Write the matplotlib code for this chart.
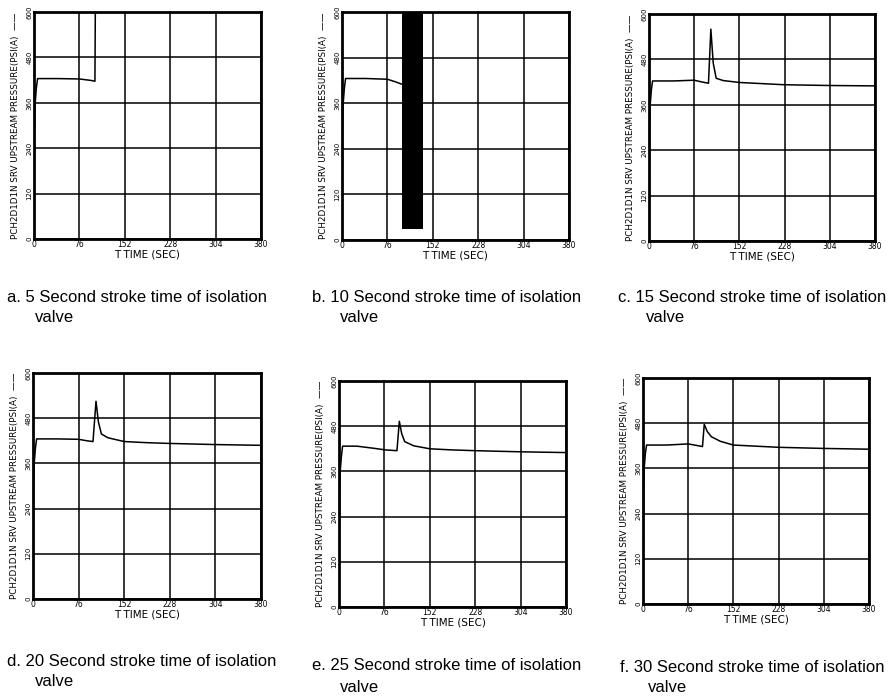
import matplotlib
matplotlib.use('Agg')
import matplotlib.pyplot as plt
from matplotlib import font_manager

W, H = 893, 696

# time axis / pressure axis ticks
x_ticks = [0, 76, 152, 228, 304, 380]
y_ticks = [0, 120, 240, 360, 480, 600]

# a. 5 s stroke (curve leaves the top of the plot)
t_a = [0, 1, 2, 4, 6, 40, 76, 96, 102, 103]
p_a = [0, 300, 360, 400, 424, 424, 423, 419, 417, 700]

# b. 10 s stroke (oscillation band after closure)
t_b = [0, 1, 2, 4, 6, 40, 76, 90, 100]
p_b = [0, 300, 360, 400, 425, 425, 423, 416, 410]
band_t = [100, 135]
band_lo = [30, 30]
band_hi = [600, 600]

# c. 15 s stroke
t_c = [0, 1, 2, 4, 6, 40, 76, 90, 100, 104, 108, 113, 125, 152, 190, 228, 304, 380]
p_c = [0, 300, 360, 400, 423, 423, 425, 420, 417, 560, 470, 430, 424, 419, 416, 413, 411, 410]

# d. 20 s stroke
t_d = [0, 1, 2, 4, 6, 40, 76, 90, 100, 105, 109, 114, 125, 152, 190, 228, 304, 380]
p_d = [0, 300, 360, 400, 425, 425, 424, 420, 418, 525, 470, 438, 428, 418, 415, 413, 410, 408]

# e. 25 s stroke
t_e = [0, 1, 2, 4, 6, 30, 60, 78, 97, 101, 105, 110, 125, 152, 190, 228, 304, 380]
p_e = [0, 300, 360, 400, 427, 427, 421, 417, 415, 493, 460, 439, 428, 420, 417, 415, 412, 410]

# f. 30 s stroke
t_f = [0, 1, 2, 4, 6, 40, 76, 90, 100, 103, 108, 115, 130, 152, 190, 228, 304, 380]
p_f = [0, 300, 360, 400, 422, 422, 425, 421, 418, 477, 458, 444, 432, 422, 419, 416, 413, 411]

captions = ['a. 5 Second stroke time of isolation',
            'b. 10 Second stroke time of isolation',
            'c. 15 Second stroke time of isolation',
            'd. 20 Second stroke time of isolation',
            'e. 25 Second stroke time of isolation',
            'f. 30 Second stroke time of isolation']

ylab = 'PCH2D1D1N SRV UPSTREAM PRESSURE(PSI(A)  \u2014\u2014'
xlab = 'T TIME (SEC)'

# axes boxes in pixels: left, top, right, bottom
boxes = [(34, 12, 261, 239), (342, 12, 569, 240), (649, 14, 875, 241),
         (33, 373, 261, 599), (339, 381, 566, 607), (643, 378, 869, 604)]
# caption anchors in pixels: x, y of first line, y of second line
cap_pos = [(7, 297, 318), (312, 297, 318), (618, 297, 318),
           (7, 661, 682), (312, 665, 687), (620, 667, 688)]

installed = {f.name for f in font_manager.fontManager.ttflist}
if 'Liberation Sans Narrow' in installed:
    cap_font, cap_size = 'Liberation Sans Narrow', 13
else:
    cap_font, cap_size = 'Liberation Sans', 12

fig = plt.figure(figsize=(W / 100, H / 100), dpi=100)

series = [(t_a, p_a), (t_b, p_b), (t_c, p_c), (t_d, p_d), (t_e, p_e), (t_f, p_f)]

for i, (box, (t, p)) in enumerate(zip(boxes, series)):
    l, tp, r, b = box
    ax = fig.add_axes([l / W, 1 - b / H, (r - l) / W, (b - tp) / H])
    ax.plot(t, p, color='black', lw=1.1)
    if i == 1:
        ax.fill_between(band_t, band_lo, band_hi, color='black', lw=0)
    ax.set_xlim(0, 380)
    ax.set_ylim(0, 600)
    ax.set_xticks(x_ticks)
    ax.set_yticks(y_ticks)
    ax.set_xticklabels([str(v) for v in x_ticks], fontsize=5.5)
    ax.set_yticklabels([str(v) for v in y_ticks], fontsize=5, rotation=90, va='center')
    ax.tick_params(length=0, pad=1)
    ax.grid(True, color='black', lw=1.1)
    for s in ax.spines.values():
        s.set_linewidth(2)
    ax.set_xlabel(xlab, fontsize=7.5, labelpad=0)
    ax.set_ylabel(ylab, fontsize=6.3)
    ax.yaxis.set_label_coords(-0.06, 0.5)

    cx, cy1, cy2 = cap_pos[i]
    fig.text(cx / W, 1 - cy1 / H, captions[i], fontsize=cap_size, family=cap_font, va='center')
    fig.text((cx + 28) / W, 1 - cy2 / H, 'valve', fontsize=cap_size, family=cap_font, va='center')

fig.savefig('out.png', dpi=100)
